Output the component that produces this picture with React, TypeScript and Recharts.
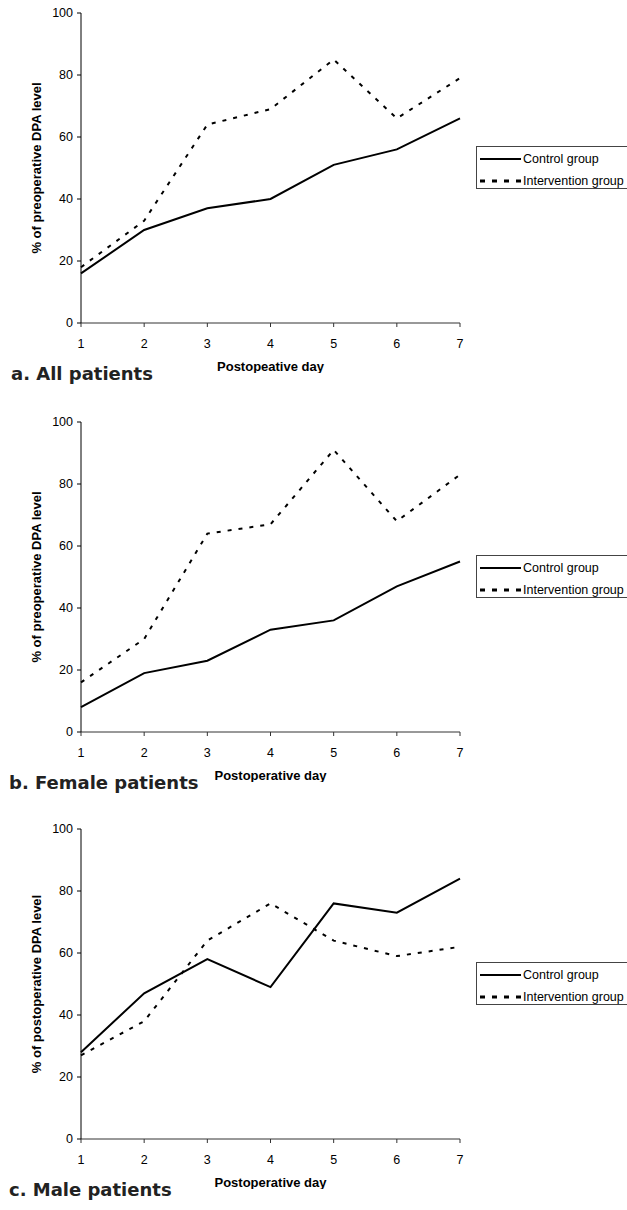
import { Legend, Line, LineChart, XAxis, YAxis } from "recharts";

const days = [1, 2, 3, 4, 5, 6, 7];
const yTicks = [0, 20, 40, 60, 80, 100];

const allControl = [16, 30, 37, 40, 51, 56, 66];
const allIntervention = [18, 33, 64, 69, 85, 66, 79];
const femaleControl = [8, 19, 23, 33, 36, 47, 55];
const femaleIntervention = [16, 30, 64, 67, 91, 68, 83];
const maleControl = [28, 47, 58, 49, 76, 73, 84];
const maleIntervention = [27, 38, 64, 76, 64, 59, 62];

const seriesNames = { control: "Control group", intervention: "Intervention group" };

const ARIAL = "'Liberation Sans', Arial, sans-serif";
const VERDANA = "'DejaVu Sans', Verdana, sans-serif";

function rows(control: number[], intervention: number[]) {
    return days.map((d, i) => ({ day: d, control: control[i], intervention: intervention[i] }));
}

const panels = [
    { top: 0, title: "a. All patients", titleLeft: 11, yLabel: "% of preoperative DPA level", xLabel: "Postopeative day", data: rows(allControl, allIntervention) },
    { top: 409, title: "b. Female patients", titleLeft: 9, yLabel: "% of preoperative DPA level", xLabel: "Postoperative day", data: rows(femaleControl, femaleIntervention) },
    { top: 816, title: "c. Male patients", titleLeft: 9, yLabel: "% of postoperative DPA level", xLabel: "Postoperative day", data: rows(maleControl, maleIntervention) },
];

function LegendBox(props: any) {
    const payload = props.payload || [];
    return (
        <div style={{ width: 167, overflow: "hidden", paddingLeft: 16, boxSizing: "border-box" }}>
            <div style={{ position: "relative", width: 165, height: 43, border: "1px solid #444", boxSizing: "border-box", fontFamily: ARIAL, fontSize: 12.5, color: "#000" }}>
                {payload.map((entry: any, i: number) => {
                    const dashed = entry.dataKey === "intervention";
                    return (
                        <div key={i} style={{ position: "absolute", left: 3, top: 3 + i * 22, height: 18, display: "flex", alignItems: "center", whiteSpace: "nowrap" }}>
                            <svg width={41} height={6} style={{ display: "block" }}>
                                <line x1={0} y1={3} x2={41} y2={3} stroke="#000"
                                      strokeWidth={dashed ? 3 : 2}
                                      strokeDasharray={dashed ? "5 7" : undefined} />
                            </svg>
                            <span style={{ marginLeft: 2 }}>{entry.value}</span>
                        </div>
                    );
                })}
            </div>
        </div>
    );
}

function Panel({ p }: { p: typeof panels[number] }) {
    return (
        <div style={{ position: "absolute", left: 0, top: p.top, width: 627 }}>
            <LineChart width={627} height={373} data={p.data} margin={{ top: 13, right: 0, bottom: 0, left: 0 }}>
                <XAxis dataKey="day" type="number" domain={[1, 7]} ticks={days} height={50}
                       stroke="#333" tickSize={4} tickMargin={12}
                       tick={{ fill: "#000", fontSize: 12.5, fontFamily: ARIAL }}
                       label={{
                           content: ({ viewBox }: any) => (
                               <text x={viewBox.x + viewBox.width / 2} y={viewBox.y + 48} textAnchor="middle"
                                     fontFamily={ARIAL} fontSize={13} fontWeight="bold" fill="#000">{p.xLabel}</text>
                           ),
                       }}
                />
                <YAxis type="number" domain={[0, 100]} ticks={yTicks} width={81}
                       stroke="#000" tickSize={4} tickMargin={4}
                       tick={{ fill: "#000", fontSize: 12.5, fontFamily: ARIAL }}
                       label={{
                           content: ({ viewBox }: any) => {
                               const x = 41;
                               const y = viewBox.y + viewBox.height / 2;
                               return (
                                   <text x={x} y={y} transform={`rotate(-90, ${x}, ${y})`} textAnchor="middle"
                                         fontFamily={ARIAL} fontSize={13} fontWeight="bold" fill="#000">{p.yLabel}</text>
                               );
                           },
                       }}
                />
                <Legend layout="vertical" align="right" verticalAlign="top" width={167}
                        wrapperStyle={{ top: 146, right: 0 }} content={LegendBox} />
                <Line type="linear" dataKey="control" name={seriesNames.control} stroke="#000" strokeWidth={2}
                      dot={false} activeDot={false} isAnimationActive={false} />
                <Line type="linear" dataKey="intervention" name={seriesNames.intervention} stroke="#000" strokeWidth={2}
                      strokeDasharray="4 7" dot={false} activeDot={false} isAnimationActive={false} />
            </LineChart>
            <div style={{ position: "absolute", left: p.titleLeft, top: 365, fontFamily: VERDANA, fontWeight: "bold", fontSize: 18, lineHeight: "18px", color: "#222", whiteSpace: "nowrap" }}>
                {p.title}
            </div>
        </div>
    );
}

export default function App() {
    return (
        <div style={{ position: "absolute", left: 0, top: 0, width: 627, height: 1210, overflow: "hidden", background: "#fff" }}>
            {panels.map((p, i) => <Panel key={i} p={p} />)}
        </div>
    );
}
